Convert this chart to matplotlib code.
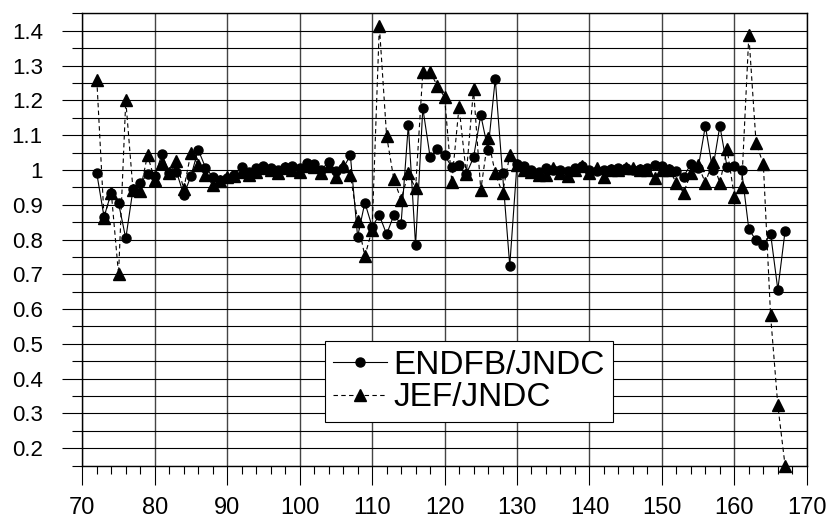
import matplotlib.pyplot as plt
import numpy as np
from matplotlib.ticker import MultipleLocator, FormatStrFormatter

plt.rcParams['font.family'] = ['Liberation Sans', 'DejaVu Sans']

# mass number
mass = list(range(72, 168))

# ratio ENDF/B to JNDC
endfb = [0.99, 0.865, 0.935, 0.905, 0.803, 0.945, 0.962, 0.988, 0.982, 1.046,
         0.992, 0.995, 0.928, 0.983, 1.058, 1.007, 0.98, 0.972, 0.976, 0.985,
         1.008, 0.995, 1.005, 1.01, 1.005, 1.0, 1.008, 1.01, 1.005, 1.02,
         1.016, 1.0, 1.024, 0.997, 1.005, 1.042, 0.808, 0.906, 0.837, 0.87,
         0.815, 0.87, 0.845, 1.13, 0.783, 1.178, 1.038, 1.06, 1.043, 1.008,
         1.014, 0.988, 1.036, 1.158, 1.058, 1.262, 0.99, 0.725, 1.018, 1.01,
         1.0, 0.995, 1.005, 1.0, 1.0, 0.997, 1.005, 1.01, 1.0, 0.997,
         1.0, 1.002, 1.005, 1.005, 1.0, 1.002, 1.005, 1.015, 1.01, 1.002,
         0.998, 0.981, 1.017, 1.005, 1.127, 1.0, 1.127, 1.008, 1.01, 1.0,
         0.829, 0.798, 0.784, 0.817, 0.656, 0.824]

# ratio JEF to JNDC
jef = [1.26, 0.863, 0.935, 0.70, 1.20, 0.942, 0.94, 1.043, 0.971, 1.019,
       0.99, 1.025, 0.945, 1.05, 1.014, 0.986, 0.957, 0.968, 0.98, 0.982,
       0.995, 0.986, 0.995, 1.005, 1.0, 0.99, 1.005, 1.0, 0.993, 1.01,
       1.008, 0.992, 1.01, 0.979, 1.01, 0.986, 0.853, 0.752, 0.828, 1.415,
       1.098, 0.973, 0.915, 0.99, 0.947, 1.283, 1.283, 1.242, 1.21, 0.965,
       1.182, 0.988, 1.232, 0.942, 1.091, 0.99, 0.933, 1.043, 1.015, 1.0,
       0.995, 0.985, 0.985, 1.005, 0.99, 0.984, 1.0, 1.012, 0.99, 1.005,
       0.98, 1.0, 1.0, 1.005, 1.005, 1.0, 1.0, 0.978, 1.0, 1.0,
       0.963, 0.935, 0.99, 1.014, 0.963, 1.024, 0.963, 1.06, 0.923, 0.952,
       1.388, 1.077, 1.017, 0.582, 0.323, 0.15]

fig = plt.figure(figsize=(8.28, 5.25), dpi=100)
ax = fig.add_axes([0.0994, 0.1133, 0.875, 0.861])

ax.plot(mass, endfb, color='black', lw=0.8, marker='o', markersize=6.5,
        label='ENDFB/JNDC', clip_on=False, zorder=3)
ax.plot(mass, jef, color='black', lw=0.8, linestyle=(0, (4, 3)), marker='^',
        markersize=8, label='JEF/JNDC', clip_on=False, zorder=3)

ax.set_xlim(70, 170)
ax.set_ylim(0.15, 1.45)

ax.xaxis.set_major_locator(MultipleLocator(10))
ax.xaxis.set_minor_locator(MultipleLocator(2))
ax.yaxis.set_major_locator(MultipleLocator(0.1))
ax.yaxis.set_minor_locator(MultipleLocator(0.05))
ax.yaxis.set_major_formatter(FormatStrFormatter('%g'))

ax.tick_params(axis='y', which='major', length=14.4, width=0.8, pad=14, labelsize=16)
ax.tick_params(axis='y', which='minor', length=7.2, width=0.8)
ax.tick_params(axis='x', which='major', length=13.7, width=0.8, pad=9, labelsize=17)
ax.tick_params(axis='x', which='minor', length=5.8, width=0.8)

# horizontal lines every 0.05, vertical lines every 10
ax.grid(True, axis='y', which='both', color='black', lw=0.8)
ax.grid(True, axis='x', which='major', color='#444444', lw=1.0)
ax.set_axisbelow(True)
for s in ax.spines.values():
    s.set_linewidth(1.0)

leg = ax.legend(loc='upper left', bbox_to_anchor=(0.335, 0.275), fontsize=24,
                frameon=True, fancybox=False, edgecolor='black', framealpha=1,
                handlelength=1.6, handletextpad=0.2, labelspacing=0.05,
                borderpad=0.25, borderaxespad=0)
leg.get_frame().set_linewidth(0.8)

plt.savefig('out.png', dpi=100)
